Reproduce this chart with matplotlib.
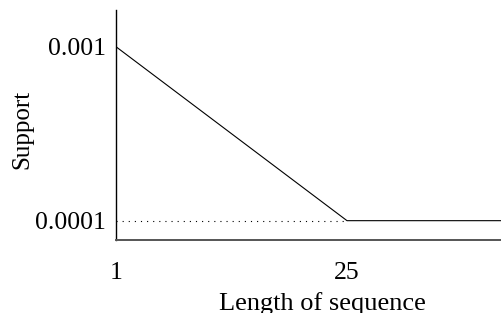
import matplotlib
matplotlib.use('Agg')
from matplotlib import pyplot as plt

# data
seq_len = [1, 25, 41]
support = [0.001, 0.0001, 0.0001]
min_support = 0.0001
xticks = [1, 25]
yticks = [0.0001, 0.001]
ytick_labels = ['0.0001', '0.001']

plt.rcParams['font.family'] = ['Liberation Serif', 'DejaVu Serif']

fig = plt.figure(figsize=(5.01, 3.13), dpi=100)
ax = fig.add_axes([116/501, 73/313, 385/501, 230/313])

ax.plot(seq_len, support, color='black', lw=0.8)
ax.plot([seq_len[0], seq_len[1]], [min_support, min_support], color='black',
        lw=0.8, linestyle=(0, (1, 4.5)))

ax.set_xlim(1, 41)
ax.set_ylim(0, 0.00119)

ax.set_xticks(xticks)
ax.set_xticklabels([str(t) for t in xticks])
ax.set_yticks(yticks)
ax.set_yticklabels(ytick_labels)
ax.tick_params(axis='x', length=0, pad=16, labelsize=18.5)
ax.tick_params(axis='y', length=0, pad=7, labelsize=18.5)

ax.spines['top'].set_visible(False)
ax.spines['right'].set_visible(False)
ax.spines['left'].set_linewidth(1.0)
ax.spines['bottom'].set_linewidth(1.4)
ax.spines['bottom'].set_color('#555555')

ax.set_xlabel('Length of sequence', fontsize=19)
ax.set_ylabel('Support', fontsize=18)
ax.xaxis.set_label_coords(0.537, -0.226)
ax.yaxis.set_label_coords(-0.215, 0.482)

fig.savefig('out.png', dpi=100)
